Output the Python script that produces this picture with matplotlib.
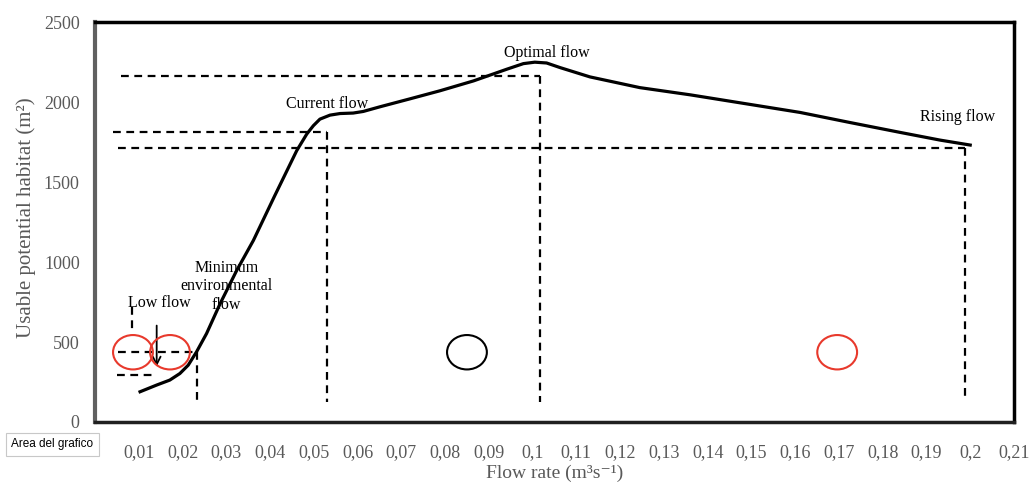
import numpy as np
import matplotlib
matplotlib.use("Agg")
from matplotlib import pyplot as plt
from matplotlib.patches import Ellipse

# dane
flow = [0.0103, 0.0141, 0.0171, 0.0194, 0.0213, 0.0232, 0.0255, 0.0286, 0.0324, 0.0362,
        0.041, 0.0461, 0.0484, 0.0499, 0.0514, 0.0537, 0.056, 0.059, 0.0613, 0.0651,
        0.072, 0.0788, 0.0865, 0.0941, 0.0979, 0.1005, 0.1032, 0.1063, 0.1131, 0.1245,
        0.136, 0.1611, 0.1725, 0.184, 0.1931, 0.2]
habitat = [189, 231, 262, 303, 355, 438, 553, 740, 948, 1135,
           1410, 1696, 1800, 1852, 1893, 1918, 1928, 1931, 1941, 1970,
           2020, 2070, 2132, 2205, 2240, 2249, 2244, 2215, 2157, 2090,
           2045, 1935, 1872, 1810, 1762, 1731]

xticks = [0.01, 0.02, 0.03, 0.04, 0.05, 0.06, 0.07, 0.08, 0.09, 0.1, 0.11,
          0.12, 0.13, 0.14, 0.15, 0.16, 0.17, 0.18, 0.19, 0.2, 0.21]
xtick_labels = ["0,01", "0,02", "0,03", "0,04", "0,05", "0,06", "0,07", "0,08", "0,09", "0,1", "0,11",
                "0,12", "0,13", "0,14", "0,15", "0,16", "0,17", "0,18", "0,19", "0,2", "0,21"]
yticks = [0, 500, 1000, 1500, 2000, 2500]

# linie przerywane: poziome (x_start, x_koniec, y) i pionowe (x, y_gora, y_dol)
h_lines = [(0.006, 0.1017, 2165), (0.0042, 0.053, 1814), (0.0053, 0.1988, 1714),
           (0.0053, 0.0233, 436), (0.005, 0.0133, 293)]
v_lines = [(0.1017, 2165, 125), (0.053, 1814, 125), (0.1988, 1714, 137),
           (0.0233, 436, 118), (0.00846, 720, 570)]

plt.rcParams['font.family'] = ['Liberation Serif', 'DejaVu Serif']

fig = plt.figure(figsize=[10.29, 4.84], dpi=100, facecolor="white")
ax = fig.add_axes([0.0923, 0.1281, 0.8931, 0.8264])

ax.plot(flow, habitat, '-', color='black', lw=2.3, solid_joinstyle='round', zorder=3)

for x0, x1, y in h_lines:
    ax.plot([x0, x1], [y, y], color='black', lw=1.6, dashes=(3.5, 2.5))
for x, y0, y1 in v_lines:
    ax.plot([x, x], [y0, y1], color='black', lw=1.6, dashes=(3.5, 2.5))

# strzalka "Low flow"
ax.annotate("", xy=(0.0141, 330), xytext=(0.0141, 620),
            arrowprops=dict(arrowstyle='->', lw=1.3, color='black', mutation_scale=14))

# kolka
circles = [(0.00868, 436, '#e8392c'), (0.01714, 436, '#e8392c'),
           (0.0850, 436, 'black'), (0.1696, 436, '#e8392c')]
for cx, cy, c in circles:
    ax.add_patch(Ellipse((cx, cy), 0.0091, 215, fill=False, edgecolor=c, lw=1.5, zorder=4))

# opisy
ax.text(0.1033, 2306, "Optimal flow", ha='center', va='center', fontsize=11.5)
ax.text(0.053, 1985, "Current flow", ha='center', va='center', fontsize=11.5)
ax.text(0.197, 1908, "Rising flow", ha='center', va='center', fontsize=11.5)
ax.text(0.0301, 848, "Minimum\nenvironmental\nflow", ha='center', va='center',
        fontsize=11.5, linespacing=1.2)
ax.text(0.0146, 742, "Low flow", ha='center', va='center', fontsize=11.5)

ax.set_xlim(0, 0.21)
ax.set_ylim(0, 2500)
ax.set_xticks(xticks)
ax.set_xticklabels(xtick_labels)
ax.set_yticks(yticks)
ax.tick_params(axis='both', length=0, labelsize=13, colors='#595959')
ax.tick_params(axis='x', pad=16)
ax.tick_params(axis='y', pad=11)

ax.set_xlabel("Flow rate (m³s⁻¹)", fontsize=14, color='#595959')
ax.xaxis.set_label_coords(0.5, -0.107)
ax.set_ylabel("Usable potential habitat (m²)", fontsize=15, color='#595959')
ax.yaxis.set_label_coords(-0.064, 0.51)

ax.spines['top'].set_linewidth(2.5)
ax.spines['right'].set_linewidth(2.5)
ax.spines['left'].set_linewidth(3)
ax.spines['left'].set_color('#606060')
ax.spines['bottom'].set_linewidth(2.5)
ax.spines['bottom'].set_color('#202020')

fig.text(0.011, 0.082, "Area del grafico", family='Liberation Sans', fontsize=8.5,
         va='center', ha='left',
         bbox=dict(boxstyle='square,pad=0.45', facecolor='white', edgecolor='#c8c8c8', lw=0.8))

fig.savefig("out.png", dpi=100, facecolor="white")
